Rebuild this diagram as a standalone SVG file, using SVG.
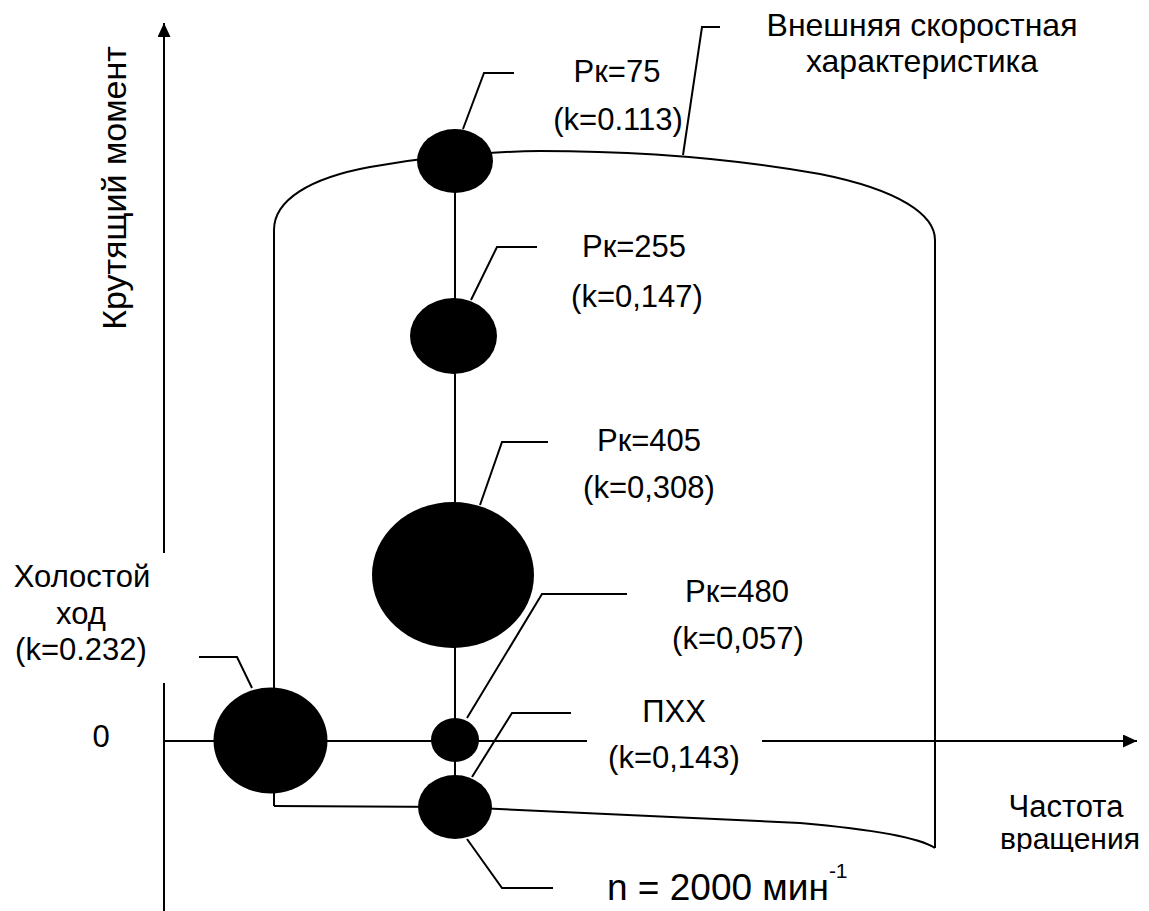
<svg xmlns="http://www.w3.org/2000/svg" width="1149" height="911" viewBox="0 0 1149 911">
<style>
.ln{fill:none;stroke:#000;stroke-width:2}
.ax{fill:none;stroke:#000;stroke-width:2}
.dot{fill:#000}
text{font-family:"Liberation Sans",Arial,sans-serif;font-size:31px;fill:#000;text-anchor:middle}
</style>
<defs>
<marker id="arr" viewBox="0 0 14 13" refX="14" refY="6.5" markerWidth="14" markerHeight="13" markerUnits="userSpaceOnUse" orient="auto">
<path d="M0,0 L14,6.5 L0,13 Z" fill="#000"/>
</marker>
<clipPath id="clipB"><rect x="990" y="780" width="159" height="72"/></clipPath>
</defs>
<rect width="1149" height="911" fill="#fff"/>
<g id="axes">
<line class="ax" x1="164" y1="553" x2="164" y2="23" marker-end="url(#arr)"/>
<line class="ax" x1="164" y1="683" x2="164" y2="911"/>
<line class="ax" x1="164" y1="741" x2="587" y2="741"/>
<line class="ax" x1="762" y1="741" x2="1137" y2="741" marker-end="url(#arr)"/>
<text transform="translate(126,188) rotate(-90)" style="font-size:34px">Крутящий момент</text>
<text x="101" y="747">0</text>
<text x="1066" y="817">Частота</text>
<text x="1070" y="849" style="font-size:30px" clip-path="url(#clipB)">вращения</text>
</g>
<g id="connectors">
<path class="ln" d="M274,806 V230 C274,200 310,178 370,167 C420,158 470,152 540,151 C640,151 730,158 820,174 C900,190 935,215 935,240 V848"/>
<path class="ln" d="M274,806 L455,807 L800,823 C880,830 920,838 935,848"/>
<line class="ln" x1="455" y1="161" x2="455" y2="807"/>
<polyline class="ln" points="463,129 484,73 514,73"/>
<polyline class="ln" points="683,155 702,27 720,27"/>
<polyline class="ln" points="471,300 497,247 537,247"/>
<polyline class="ln" points="480,505 502,442 548,442"/>
<polyline class="ln" points="467,718 542,594 627,594"/>
<polyline class="ln" points="472,777 512,713 571,713"/>
<polyline class="ln" points="467,839 502,888 553,888"/>
<polyline class="ln" points="252,688 237,657 199,657"/>
</g>
<g id="ext-char">
<text x="922" y="36" style="font-size:32px">Внешняя скоростная</text>
<text x="922" y="72" style="font-size:32px">характеристика</text>
</g>
<g id="pk75">
<ellipse class="dot" cx="455" cy="161" rx="38" ry="32"/>
<text x="617" y="82">Рк=75</text>
<text x="618" y="130">(k=0.113)</text>
</g>
<g id="pk255">
<ellipse class="dot" cx="453.5" cy="336" rx="43.5" ry="38"/>
<text x="634" y="257">Рк=255</text>
<text x="637" y="307">(k=0,147)</text>
</g>
<g id="pk405">
<ellipse class="dot" cx="453" cy="575" rx="81" ry="73"/>
<text x="649" y="451">Рк=405</text>
<text x="649" y="498">(k=0,308)</text>
</g>
<g id="pk480">
<ellipse class="dot" cx="455" cy="740" rx="24" ry="22"/>
<text x="737" y="602">Рк=480</text>
<text x="738" y="649">(k=0,057)</text>
</g>
<g id="pxx">
<ellipse class="dot" cx="455" cy="807" rx="37" ry="32"/>
<text x="674" y="722">ПХХ</text>
<text x="674" y="768">(k=0,143)</text>
</g>
<g id="idle">
<ellipse class="dot" cx="270.5" cy="740.5" rx="57" ry="53"/>
<text x="82" y="587">Холостой</text>
<text x="81" y="624">ход</text>
<text x="81" y="660">(k=0.232)</text>
</g>
<g id="rpm">
<text x="607" y="900" style="text-anchor:start;font-size:37px">n = 2000 мин<tspan dy="-22" style="font-size:21px">-1</tspan></text>
</g>
</svg>
